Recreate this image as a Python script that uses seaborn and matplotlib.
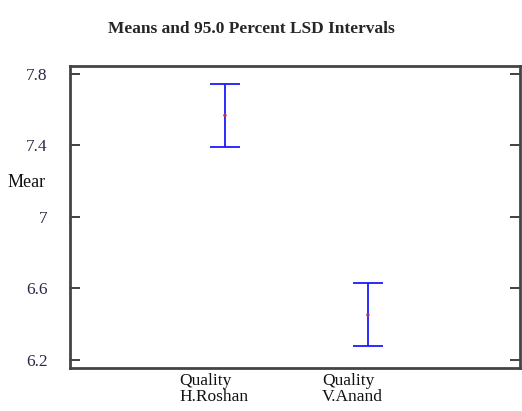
import numpy as np
import pandas as pd
import matplotlib
matplotlib.use("Agg")
import matplotlib.pyplot as plt
import seaborn as sns

# values
groups = ["Quality\nH.Roshan", "Quality\nV.Anand"]
means = [7.567, 6.452]
lower = [7.389, 6.277]
upper = [7.744, 6.632]
yticks = [6.2, 6.6, 7.0, 7.4, 7.8]
ytick_labels = ["6.2", "6.6", "7", "7.4", "7.8"]

sns.set_style("ticks")
plt.rcParams["font.family"] = ["Liberation Serif", "DejaVu Serif"]

df = pd.DataFrame({"group": groups, "mean": means, "lo": lower, "hi": upper})
df["pos"] = np.arange(len(df))

fig = plt.figure(figsize=(5.22, 4.11), dpi=100)
ax = fig.add_axes([0.134, 0.105, 0.862, 0.735])

# LSD intervals
ax.errorbar(df["pos"], df["mean"],
            yerr=[df["mean"] - df["lo"], df["hi"] - df["mean"]],
            fmt="none", ecolor="#1a1aff", elinewidth=1.3, capsize=11, capthick=1.3)
sns.scatterplot(data=df, x="pos", y="mean", ax=ax, color="#b0306a", s=6,
                edgecolor="none", zorder=3)

ax.set_xlim(-1.084, 2.063)
ax.set_ylim(6.156, 7.844)
ax.set_yticks(yticks)
ax.set_yticklabels(ytick_labels, color="#2a2a4a", fontsize=12.5)
# x labels are left-aligned, starting a bit left of each interval (ticks hidden)
ax.set_xticks(df["pos"] - 0.32)
ax.set_xticklabels(df["group"], fontsize=12.5, linespacing=0.95, color="#111111",
                   ha="left", multialignment="left")

ax.tick_params(axis="y", direction="in", length=7, width=1.3, pad=16,
               right=True, color="#333333")
ax.tick_params(axis="x", length=0, pad=4)
for sp in ax.spines.values():
    sp.set_visible(True)
    sp.set_linewidth(2)
    sp.set_color("#444444")

ax.set_xlabel("")
ax.set_ylabel("")
fig.text(0.015, 0.555, "Mear", fontsize=13, ha="left", va="center", color="#111111")
fig.text(0.482, 0.93, "Means and 95.0 Percent LSD Intervals", fontsize=12.5,
         fontweight="bold", ha="center", va="center")

fig.savefig("out.png", dpi=100)
